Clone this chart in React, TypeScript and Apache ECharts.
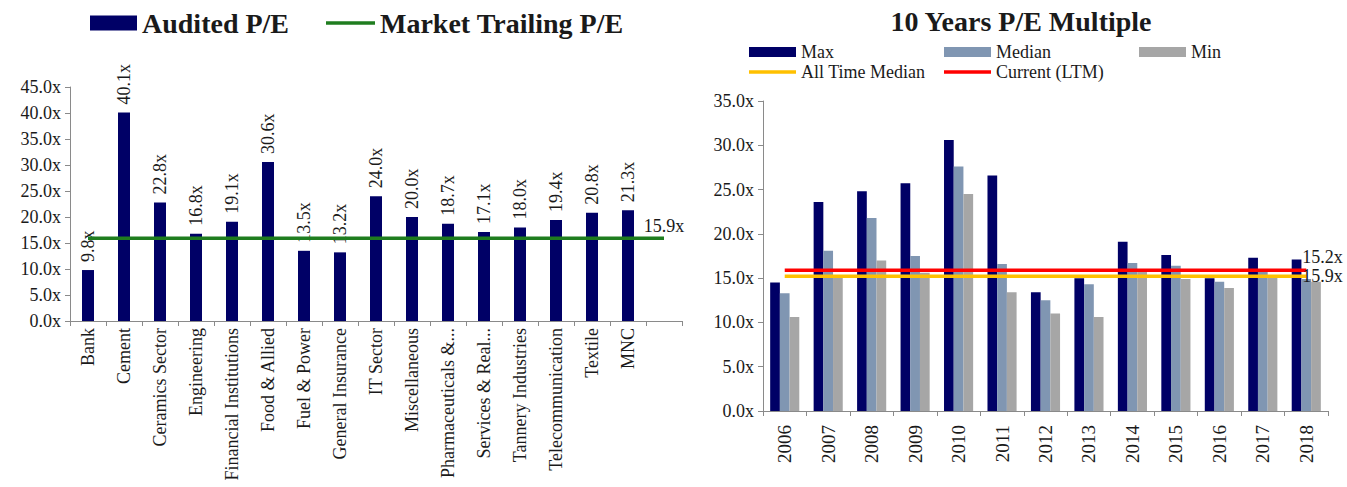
import React, { useEffect, useRef } from "react";
import * as echarts from "echarts";

const SECTORS = [
  "Bank",
  "Cement",
  "Ceramics Sector",
  "Engineering",
  "Financial Institutions",
  "Food & Allied",
  "Fuel & Power",
  "General Insurance",
  "IT Sector",
  "Miscellaneous",
  "Pharmaceuticals &...",
  "Services & Real...",
  "Tannery Industries",
  "Telecommunication",
  "Textile",
  "MNC",
  "",
];
const AUDITED_PE = [9.8, 40.1, 22.8, 16.8, 19.1, 30.6, 13.5, 13.2, 24.0, 20.0, 18.7, 17.1, 18.0, 19.4, 20.8, 21.3];
const MARKET_TRAILING_PE = 15.9;
const LEFT_Y_TICKS = { min: 0, max: 45, interval: 5 };

const YEARS = ["2006", "2007", "2008", "2009", "2010", "2011", "2012", "2013", "2014", "2015", "2016", "2017", "2018"];
const MAX_PE = [14.5, 23.6, 24.8, 25.7, 30.6, 26.6, 13.4, 15.0, 19.1, 17.6, 15.0, 17.3, 17.1];
const MEDIAN_PE = [13.3, 18.1, 21.8, 17.5, 27.6, 16.6, 12.5, 14.3, 16.7, 16.4, 14.6, 15.8, 14.9];
const MIN_PE = [10.6, 15.2, 17.0, 15.6, 24.5, 13.4, 11.0, 10.6, 15.7, 14.9, 13.9, 15.2, 14.6];
const ALL_TIME_MEDIAN = 15.2;
const CURRENT_LTM = 15.9;
const RIGHT_Y_TICKS = { min: 0, max: 35, interval: 5 };

const FONT = "Liberation Serif";
const TXT = "#1a1a1a";
const AXIS = "#8a8a8a";
const NAVY = "#000066";
const GREEN = "#1f7d1f";
const MEDIAN_C = "#8096b2";
const MIN_C = "#a6a6a6";
const YELLOW = "#ffc000";
const RED = "#ff0000";

const fmt = (v: number) => v.toFixed(1) + "x";

export default function App() {
  const ref = useRef<HTMLDivElement>(null);
  useEffect(() => {
    document.body.style.margin = "0";
    const chart = echarts.init(ref.current!, null, { renderer: "svg" });
    const lastSector = SECTORS.length - 1;
    const lastYear = YEARS.length - 1;
    const baseAxisLine = { show: true, lineStyle: { color: AXIS, width: 1 } };
    const tick = { show: true, length: 5, lineStyle: { color: AXIS } };
    const legendText = { fontFamily: FONT, fontSize: 18, color: TXT };
    const bigLegendText = { fontFamily: FONT, fontSize: 28, fontWeight: "bold", color: TXT };
    const barLegend = (name: string, left: number, top: number) => ({
      data: [{ name, icon: "rect" }],
      left,
      top,
      padding: 0,
      itemWidth: 47,
      itemHeight: 10,
      textStyle: legendText,
    });
    const lineLegend = (name: string, left: number, top: number) => ({
      data: [{ name, icon: "rect" }],
      left,
      top,
      padding: 0,
      itemWidth: 47,
      itemHeight: 3.5,
      textStyle: legendText,
    });
    chart.setOption({
      animation: false,
      textStyle: { fontFamily: FONT },
      title: {
        text: "10 Years P/E Multiple",
        left: 1016,
        textAlign: "center",
        top: 2,
        textStyle: { fontFamily: FONT, fontSize: 28, fontWeight: "bold", color: TXT },
      },
      legend: [
        {
          data: [{ name: "Audited P/E", icon: "rect" }],
          left: 90,
          top: 9,
          padding: 0,
          itemWidth: 47,
          itemHeight: 15,
          textStyle: bigLegendText,
        },
        {
          data: [{ name: "Market Trailing P/E", icon: "rect" }],
          left: 326,
          top: 9,
          padding: 0,
          itemWidth: 49,
          itemHeight: 3.5,
          textStyle: bigLegendText,
        },
        barLegend("Max", 749, 43),
        barLegend("Median", 944, 43),
        barLegend("Min", 1139, 43),
        lineLegend("All Time Median", 749, 63),
        lineLegend("Current (LTM)", 944, 63),
      ],
      grid: [
        { left: 70, top: 87, width: 612, height: 234 },
        { left: 763, top: 101, width: 565, height: 310 },
      ],
      xAxis: [
        {
          type: "category",
          gridIndex: 0,
          data: SECTORS,
          axisLine: baseAxisLine,
          axisTick: tick,
          axisLabel: { rotate: 90, margin: 7, fontFamily: FONT, fontSize: 18, color: TXT, interval: 0 },
        },
        {
          type: "category",
          gridIndex: 1,
          data: YEARS,
          axisLine: baseAxisLine,
          axisTick: tick,
          axisLabel: { rotate: 90, margin: 14, fontFamily: FONT, fontSize: 19, color: TXT, interval: 0 },
        },
      ],
      yAxis: [
        {
          type: "value",
          gridIndex: 0,
          ...LEFT_Y_TICKS,
          axisLine: baseAxisLine,
          axisTick: tick,
          splitLine: { show: false },
          axisLabel: { formatter: fmt, fontFamily: FONT, fontSize: 18, color: TXT, margin: 9 },
        },
        {
          type: "value",
          gridIndex: 1,
          ...RIGHT_Y_TICKS,
          axisLine: baseAxisLine,
          axisTick: tick,
          splitLine: { show: false },
          axisLabel: { formatter: fmt, fontFamily: FONT, fontSize: 18, color: TXT, margin: 9 },
        },
      ],
      series: [
        {
          name: "Audited P/E",
          type: "bar",
          xAxisIndex: 0,
          yAxisIndex: 0,
          data: AUDITED_PE,
          barWidth: 12,
          itemStyle: { color: NAVY },
          label: {
            show: true,
            position: "top",
            rotate: 90,
            align: "left",
            verticalAlign: "middle",
            distance: 8,
            formatter: (p: any) => fmt(p.value),
            fontFamily: FONT,
            fontSize: 18,
            color: TXT,
          },
        },
        {
          name: "Market Trailing P/E",
          type: "line",
          xAxisIndex: 0,
          yAxisIndex: 0,
          symbol: "none",
          lineStyle: { color: GREEN, width: 3.5 },
          itemStyle: { color: GREEN },
          endLabel: {
            show: true,
            formatter: () => fmt(MARKET_TRAILING_PE),
            align: "center",
            verticalAlign: "bottom",
            distance: 0,
            offset: [0, -3],
            fontFamily: FONT,
            fontSize: 18,
            color: TXT,
          },
          data: [
            [0, MARKET_TRAILING_PE],
            [lastSector, MARKET_TRAILING_PE],
          ],
        },
        {
          name: "Max",
          type: "bar",
          xAxisIndex: 1,
          yAxisIndex: 1,
          data: MAX_PE,
          barGap: "0%",
          barCategoryGap: "33%",
          itemStyle: { color: NAVY },
        },
        {
          name: "Median",
          type: "bar",
          xAxisIndex: 1,
          yAxisIndex: 1,
          data: MEDIAN_PE,
          barGap: "0%",
          barCategoryGap: "33%",
          itemStyle: { color: MEDIAN_C },
        },
        {
          name: "Min",
          type: "bar",
          xAxisIndex: 1,
          yAxisIndex: 1,
          data: MIN_PE,
          barGap: "0%",
          barCategoryGap: "33%",
          itemStyle: { color: MIN_C },
        },
        {
          name: "All Time Median",
          type: "line",
          xAxisIndex: 1,
          yAxisIndex: 1,
          symbol: "none",
          lineStyle: { color: YELLOW, width: 3.5 },
          itemStyle: { color: YELLOW },
          endLabel: {
            show: true,
            formatter: () => fmt(ALL_TIME_MEDIAN),
            distance: -4,
            offset: [0, -19],
            fontFamily: FONT,
            fontSize: 18,
            color: TXT,
          },
          data: [
            [0, ALL_TIME_MEDIAN],
            [lastYear, ALL_TIME_MEDIAN],
          ],
        },
        {
          name: "Current (LTM)",
          type: "line",
          xAxisIndex: 1,
          yAxisIndex: 1,
          symbol: "none",
          lineStyle: { color: RED, width: 3.5 },
          itemStyle: { color: RED },
          endLabel: {
            show: true,
            formatter: () => fmt(CURRENT_LTM),
            distance: -4,
            offset: [0, 6],
            fontFamily: FONT,
            fontSize: 18,
            color: TXT,
          },
          data: [
            [0, CURRENT_LTM],
            [lastYear, CURRENT_LTM],
          ],
        },
      ],
    });
    return () => chart.dispose();
  }, []);
  return <div ref={ref} style={{ width: 1347, height: 487 }} />;
}
